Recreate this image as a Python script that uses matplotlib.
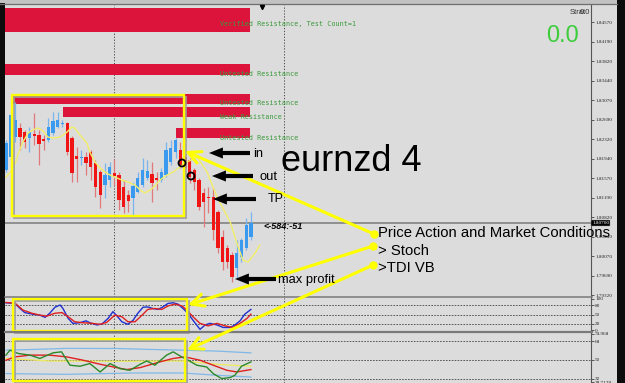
import numpy as np
import matplotlib
matplotlib.use("Agg")
import matplotlib.pyplot as plt
import matplotlib.transforms as mtransforms
from matplotlib.patches import Rectangle, Circle

plt.rcParams["font.family"] = ["Liberation Sans", "DejaVu Sans"]

# =========================
# Price data (EURNZD)
# =========================
opens = [1.81724, 1.81974, 1.82358, 1.82532, 1.82455, 1.82339, 1.82416, 1.82397, 1.82320, 1.82301,
         1.82435, 1.82551, 1.82608, 1.82628, 1.82339, 1.81993, 1.81954, 1.81974, 1.82070, 1.81858,
         1.81685, 1.81435, 1.81531, 1.81666, 1.81627, 1.81397, 1.81243, 1.81186, 1.81301, 1.81435,
         1.81570, 1.81647, 1.81570, 1.81531, 1.81627, 1.81877, 1.82070, 1.82108, 1.81974, 1.81916,
         1.81724, 1.81531, 1.81282, 1.81205, 1.81205, 1.80916, 1.80435, 1.80224, 1.80089, 1.79839,
         1.80051, 1.80224, 1.80435]
highs = [1.82301, 1.82820, 1.83032, 1.82628, 1.82493, 1.82551, 1.82820, 1.82493, 1.82397, 1.82724,
         1.82839, 1.82839, 1.82685, 1.82647, 1.82378, 1.82166, 1.82108, 1.82070, 1.82108, 1.81916,
         1.81724, 1.81858, 1.81877, 1.81935, 1.81685, 1.81531, 1.81339, 1.81493, 1.81685, 1.81954,
         1.81916, 1.81877, 1.81685, 1.81762, 1.82262, 1.82301, 1.82339, 1.82262, 1.82012, 1.81954,
         1.81762, 1.81570, 1.81378, 1.81397, 1.81397, 1.80955, 1.80570, 1.80281, 1.80147, 1.80378,
         1.80416, 1.80801, 1.80916]
lows = [1.81685, 1.81916, 1.82262, 1.82108, 1.82147, 1.82070, 1.82205, 1.81820, 1.82108, 1.82262,
        1.82397, 1.82532, 1.82551, 1.82012, 1.81493, 1.81493, 1.81820, 1.81627, 1.81531, 1.81205,
        1.80993, 1.81186, 1.81397, 1.81435, 1.80955, 1.80897, 1.80916, 1.80858, 1.81282, 1.81397,
        1.81531, 1.81109, 1.81339, 1.81493, 1.81589, 1.81820, 1.81954, 1.81762, 1.81685, 1.81474,
        1.81339, 1.80955, 1.80628, 1.80897, 1.80378, 1.80128, 1.79801, 1.79839, 1.79570, 1.79647,
        1.79955, 1.80185, 1.80378]
closes = [1.82243, 1.82782, 1.82685, 1.82358, 1.82262, 1.82455, 1.82378, 1.82224, 1.82281, 1.82551,
          1.82666, 1.82685, 1.82628, 1.82070, 1.81666, 1.81935, 1.81974, 1.81858, 1.81781, 1.81397,
          1.81243, 1.81627, 1.81781, 1.81608, 1.81147, 1.81012, 1.81128, 1.81416, 1.81570, 1.81724,
          1.81704, 1.81474, 1.81531, 1.81685, 1.82108, 1.82147, 1.82301, 1.81820, 1.81762, 1.81589,
          1.81493, 1.81012, 1.81109, 1.81186, 1.80570, 1.80224, 1.79955, 1.79955, 1.79666, 1.80128,
          1.80378, 1.80666, 1.80704]

# yellow moving average (shifted forward past the last bar)
ma_x = [0, 1, 2, 2.5, 3.6, 4.7, 5.7, 6.8, 7.9, 8.9, 10, 11.5, 13, 14, 14.6, 15.7, 17.2, 17.8, 18.9, 20,
        21, 22.1, 23.1, 24.6, 25.9, 27.4, 28.5, 29.5, 30.6, 31.6, 32.7, 34.2, 35.5, 36.9, 38.4, 40.6,
        42.7, 44.8, 47.6, 49.3, 50.3, 51.4, 52.9, 53.9]
ma_vals = [1.81589, 1.81685, 1.81858, 1.82012, 1.82262, 1.82435, 1.82493, 1.82532, 1.82474, 1.82358,
           1.82339, 1.82358, 1.82455, 1.82551, 1.82532, 1.82397, 1.82243, 1.82070, 1.81877, 1.81762,
           1.81685, 1.81627, 1.81589, 1.81531, 1.81493, 1.81435, 1.81339, 1.81282, 1.81339, 1.81416,
           1.81531, 1.81627, 1.81685, 1.81781, 1.81877, 1.81974, 1.81685, 1.81205, 1.80724, 1.80243,
           1.79993, 1.79955, 1.80128, 1.80281]

bid_price = 1.80700
price_ticks = [1.84570, 1.84190, 1.83820, 1.83440, 1.83070, 1.82690, 1.82320, 1.81940,
               1.81570, 1.81190, 1.80820, 1.80440, 1.80070, 1.79690, 1.79320]

# supply zones
zone_top = [1.84839, 1.83762, 1.83185, 1.82935, 1.82532]
zone_bottom = [1.84377, 1.83551, 1.82993, 1.82743, 1.82339]
zone_start = [-0.2, -0.2, 1.5, 12.1, 36.1]
zone_end = 51.8
zone_label_y = [1.84531, 1.83570, 1.83012, 1.82743, 1.82339]
zone_labels = ["Verified Resistance, Test Count=1", "Untested Resistance",
               "Untested Resistance", "Weak Resistance", "Untested Resistance"]

# stochastic
stoch_main_x = [0, 1.9, 3, 4, 5.7, 7.2, 8.3, 9.3, 10.4, 11.5, 12.1, 13.2, 14.2, 15.7, 17, 17.8,
                19.3, 20.4, 21.7, 22.7, 23.6, 24.6, 25.9, 27, 28, 29.1, 30.1, 31.2, 32.3, 33.3,
                34.4, 35.5, 36.5, 37.6, 38.6, 39.7, 41.2, 42.3, 43.3, 44.8, 46.1, 47.6, 48.6,
                49.7, 50.7, 52]
stoch_main = [87, 85, 69, 56, 51, 48, 41, 54, 73, 80, 69, 38, 22, 24, 30, 24, 17, 20, 38, 59,
              45, 27, 19, 32, 54, 73, 74, 69, 66, 74, 85, 87, 83, 69, 54, 32, 3, 17, 22, 17,
              9, 9, 17, 30, 51, 66]
stoch_sig_x = [0, 1.9, 3.6, 5.5, 7.2, 8.7, 10.4, 11.9, 13.2, 14.6, 16.3, 18.3, 20, 21.4, 23.1,
               24.6, 25.9, 27.4, 28.9, 30.1, 31.6, 33.1, 34.4, 35.9, 37.4, 38.4, 39.7, 41.2,
               42.9, 44.8, 46.5, 48.2, 49.7, 51.2, 52]
stoch_sig = [88, 86, 64, 54, 48, 45, 54, 56, 43, 27, 24, 22, 19, 25, 48, 43, 27, 27, 48, 66,
             69, 66, 77, 83, 77, 64, 43, 22, 14, 22, 14, 9, 22, 38, 51]
stoch_levels = [80, 50, 20]

# TDI
tdi_up_x = [0, 5.8, 12.9, 23.5, 30.6, 37.6, 44.7, 52]
tdi_up = [59.4, 60.1, 61.1, 61.0, 60.1, 59.4, 58.5, 56.8]
tdi_dn_x = [0, 12.9, 27, 37.6, 44.7, 52]
tdi_dn = [36.8, 36.1, 37.4, 37.4, 35.2, 33.5]
tdi_mid_x = [0, 9.3, 23.5, 37.6, 44.7, 52]
tdi_mid = [51.4, 49.0, 48.7, 49.0, 45.8, 43.9]
tdi_red_x = [0, 1.9, 5.1, 9.3, 12.9, 16.4, 20, 23.5, 25.6, 28.5, 32.7, 35.5, 38, 41.2, 44,
             46.9, 49, 52]
tdi_red = [49.7, 52.9, 54.6, 54.6, 52.9, 49.7, 45.8, 42.6, 40.7, 42.6, 48.1, 51.4, 52.9, 49.7,
           44.9, 40.0, 38.4, 40.7]
tdi_green_x = [0, 0.85, 2.6, 5.1, 7.2, 10, 11.8, 13.6, 15.7, 17.8, 20, 22.1, 24.2, 26.3, 28.5,
               29.9, 31.6, 34.1, 35.5, 37.3, 38.7, 40.5, 42.6, 44, 45.8, 47.6, 48.6, 50, 52]
tdi_green = [54.6, 59.4, 56.2, 54.6, 51.4, 56.8, 57.8, 44.9, 43.9, 46.5, 38.4, 46.5, 41.6, 40.0,
             45.8, 49.0, 44.9, 54.6, 57.8, 52.9, 49.7, 44.9, 43.2, 36.8, 32.0, 33.0, 35.2,
             43.9, 48.1]
tdi_levels = [68, 50, 32]
tdi_ticks = [74.968, 68, 50, 32, 28.7128]
tdi_tick_labels = ["74.968", "68", "50", "32", "28.7128"]

grid_bars = [23, 59]

# =========================
# Figure layout (pixel based)
# =========================
W, H = 625, 383
BG = "#dcdcdc"


def px_rect(x0, y0, x1, y1):
    return [x0 / W, 1 - y1 / H, (x1 - x0) / W, (y1 - y0) / H]


fig = plt.figure(figsize=(W / 100, H / 100), dpi=100)
fig.patch.set_facecolor(BG)

ax = fig.add_axes(px_rect(5, 5, 591, 297))
ax_st = fig.add_axes(px_rect(5, 298, 591, 331))
ax_tdi = fig.add_axes(px_rect(5, 333, 591, 383))

tick_font = dict(fontsize=3.7, family="Liberation Serif")

for a in (ax, ax_st, ax_tdi):
    a.set_facecolor(BG)
    a.set_xlim(-0.2, 124.2)
    for side in ("top", "left", "bottom"):
        a.spines[side].set_visible(False)
    a.spines["right"].set_color("#555555")
    a.spines["right"].set_linewidth(0.8)
    a.set_xticks([])
    a.yaxis.tick_right()
    a.tick_params(axis="y", length=2, width=0.5, pad=1, colors="#222222")
    for gx in grid_bars:
        a.axvline(gx, color="#333333", lw=0.6, ls=(0, (1.5, 2)), zorder=0.5)

# ---- main price panel
ax.set_ylim(1.79282, 1.84897)

for s, t, b, lbl, ly in zip(zone_start, zone_top, zone_bottom, zone_labels, zone_label_y):
    ax.add_patch(Rectangle((s, b), zone_end - s, t - b, fc="#dc143c", ec="none", zorder=1))
    ax.text(45.4, ly, lbl, fontsize=4.9, family="DejaVu Sans Mono", color="#3a9a3a",
            va="center", ha="left", zorder=4)

ax.axhline(bid_price, color="#8a8a8a", lw=1.3, zorder=1.5)

for i, (o, h, l, c) in enumerate(zip(opens, highs, lows, closes)):
    up = c > o
    body = "#3a9af0" if up else "#f01414"
    wick = "#78b4ee" if up else "#e07a7a"
    ax.vlines(i, l, h, color=wick, lw=0.9, zorder=2)
    ax.bar(i, max(abs(c - o), 0.00015), bottom=min(o, c), width=0.7,
           color=body, lw=0, zorder=3)

ax.plot(ma_x, ma_vals, color="#f2ee6a", lw=1.0, zorder=3.5)

ax.set_yticks(price_ticks)
ax.set_yticklabels([f"{t:.5f}" for t in price_ticks], **tick_font)
ax.text(1.002, bid_price, f"{bid_price:.5f}", color="white", va="center", ha="left",
        transform=mtransforms.blended_transform_factory(ax.transAxes, ax.transData),
        bbox=dict(boxstyle="square,pad=0.2", fc="black", ec="#999999", lw=0.3),
        clip_on=False, zorder=6, **tick_font)

# ---- stochastic panel
ax_st.set_ylim(-2.2, 102.2)
for lv in stoch_levels:
    ax_st.axhline(lv, color="#444444", lw=0.6, ls=(0, (2, 1.5)), zorder=0.5)
ax_st.plot(stoch_main_x, stoch_main, color="#2030d0", lw=1.0)
ax_st.plot(stoch_sig_x, stoch_sig, color="#e02020", lw=1.0)
ax_st.set_yticks([100, 80, 50, 20, 0])
ax_st.set_yticklabels(["100", "80", "50", "20", "0"], **tick_font)

# ---- TDI panel
ax_tdi.set_ylim(27.75, 75.93)
for lv in tdi_levels:
    ax_tdi.axhline(lv, color="#444444", lw=0.6, ls=(0, (2, 1.5)), zorder=0.5)
ax_tdi.plot(tdi_up_x, tdi_up, color="#80b8e8", lw=0.9)
ax_tdi.plot(tdi_dn_x, tdi_dn, color="#80b8e8", lw=0.9)
ax_tdi.plot(tdi_mid_x, tdi_mid, color="#eeea5a", lw=0.9)
ax_tdi.plot(tdi_red_x, tdi_red, color="#e02020", lw=1.0)
ax_tdi.plot(tdi_green_x, tdi_green, color="#2a8a2a", lw=1.0)
ax_tdi.set_yticks(tdi_ticks)
ax_tdi.set_yticklabels(tdi_tick_labels, **tick_font)

# =========================
# Overlay: frame, annotations
# =========================
ov = fig.add_axes([0, 0, 1, 1], zorder=10)
ov.set_xlim(0, W)
ov.set_ylim(H, 0)
ov.axis("off")
ov.patch.set_alpha(0)

ov.add_patch(Rectangle((0, 0), 617, 4, fc="#c2c2c2", ec="none"))
ov.plot([0, 617], [4.3, 4.3], color="#6e6e6e", lw=0.9)
ov.add_patch(Rectangle((0, 3), 5, H, fc="#0c0c0c", ec="none"))
ov.add_patch(Rectangle((617, 0), 8, H, fc="#0c0c0c", ec="none"))
ov.plot([5, 592], [297, 297], color="#7a7a7a", lw=1.1)
ov.plot([5, 592], [332, 332], color="#7a7a7a", lw=1.6)
ov.plot(262, 7, marker="v", ms=3, color="black")

# yellow highlight boxes
for (x0, y0, w, h) in [(12, 95, 172, 121), (13, 299, 174, 32), (13, 339, 172, 42)]:
    ov.add_patch(Rectangle((x0 + 2, y0 + 2), w, h, fill=False, ec="#9c9c9c", lw=1.2))
    ov.add_patch(Rectangle((x0, y0), w, h, fill=False, ec="#ffff00", lw=1.7))

# yellow pointer arrows
for start, end in [((374, 234), (185, 151)), ((373, 246), (188, 305)), ((373, 265), (187, 350))]:
    ov.annotate("", xy=end, xytext=start,
                arrowprops=dict(arrowstyle="->,head_length=0.9,head_width=0.45",
                                color="#ffff00", lw=2.2, shrinkA=0, shrinkB=0))
    ov.plot(*start, "o", ms=5, color="#ffff00")

# black trade arrows
for tail, tip in [((250, 153), (209, 153)), ((253, 176), (212, 176)),
                  ((256, 199), (213, 199)), ((276, 279), (235, 279))]:
    ov.annotate("", xy=tip, xytext=tail,
                arrowprops=dict(arrowstyle="simple,head_length=1.0,head_width=0.8,tail_width=0.3",
                                fc="black", ec="black", lw=0, shrinkA=0, shrinkB=0,
                                mutation_scale=10))

ov.add_patch(Circle((182, 163), 3.5, fill=False, ec="black", lw=1.3))
ov.add_patch(Circle((191, 176), 3.5, fill=False, ec="black", lw=1.3))

ov.text(253, 157, "in", fontsize=9.3, va="baseline")
ov.text(259, 180, "out", fontsize=9.3, va="baseline")
ov.text(268, 202, "TP", fontsize=9, va="baseline")
ov.text(278, 283, "max profit", fontsize=9.3, va="baseline")
ov.text(263, 229, "<-584:-51", fontsize=6.5, style="italic", weight="bold", va="baseline")

ov.text(281, 171, "eurnzd 4", fontsize=26, va="baseline")
ov.text(378, 237, "Price Action and Market Conditions", fontsize=10.7, va="baseline")
ov.text(378, 255, "> Stoch", fontsize=10.7, va="baseline")
ov.text(378, 272, ">TDI VB", fontsize=10.7, va="baseline")

ov.text(546, 42, "0.0", fontsize=17, color="#3ccc3c", va="baseline")
ov.text(570, 14, "Strat", fontsize=5.5, color="#333333", va="baseline")
ov.text(590, 14, "0.0", fontsize=5.5, color="#333333", va="baseline", ha="right")

fig.savefig("out.png", dpi=100, facecolor=fig.get_facecolor())
